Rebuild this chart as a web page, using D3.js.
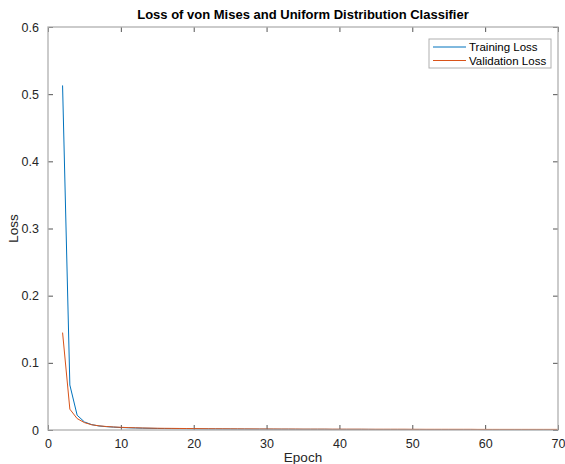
<!DOCTYPE html>
<html>
<head>
<meta charset="utf-8">
<script src="https://cdn.jsdelivr.net/npm/d3@7"></script>
<style>
  body { margin: 0; background: #fff; }
  svg { display: block; font-family: "Liberation Sans", Arial, sans-serif; }
</style>
</head>
<body>
<svg id="chart" width="565" height="464"></svg>
<script>
// epochs (x values)
const epochs = [2, 3, 4, 5, 6, 7, 8, 9, 10, 11, 12, 13, 14, 15, 16, 17, 18, 19, 20,
  21, 22, 23, 24, 25, 26, 27, 28, 29, 30, 31, 32, 33, 34, 35, 36, 37, 38, 39, 40,
  41, 42, 43, 44, 45, 46, 47, 48, 49, 50, 51, 52, 53, 54, 55, 56, 57, 58, 59, 60,
  61, 62, 63, 64, 65, 66, 67, 68, 69, 70];

const trainingLoss = [0.513, 0.067, 0.022, 0.012, 0.008, 0.006, 0.005, 0.0043, 0.0037,
  0.0033, 0.003, 0.0027, 0.0025, 0.0023, 0.0021, 0.002, 0.0019, 0.0018, 0.0017,
  0.0016, 0.0015, 0.0015, 0.0014, 0.0014, 0.0013, 0.0013, 0.0012, 0.0012, 0.0012,
  0.0011, 0.0011, 0.0011, 0.001, 0.001, 0.001, 0.001, 0.001, 0.0009, 0.0009,
  0.0009, 0.0009, 0.0009, 0.0009, 0.0008, 0.0008, 0.0008, 0.0008, 0.0008, 0.0008,
  0.0008, 0.0007, 0.0007, 0.0007, 0.0007, 0.0007, 0.0007, 0.0007, 0.0007, 0.0006,
  0.0006, 0.0006, 0.0006, 0.0006, 0.0006, 0.0006, 0.0006, 0.0006, 0.0006, 0.0006];

const validationLoss = [0.145, 0.031, 0.017, 0.011, 0.0078, 0.0062, 0.0052, 0.0045, 0.004,
  0.0036, 0.0033, 0.003, 0.0028, 0.0026, 0.0025, 0.0024, 0.0023, 0.0022, 0.0021,
  0.002, 0.0019, 0.0018, 0.0018, 0.0017, 0.0017, 0.0016, 0.0016, 0.0015, 0.0015,
  0.0015, 0.0014, 0.0014, 0.0014, 0.0013, 0.0013, 0.0013, 0.0013, 0.0012, 0.0012,
  0.0012, 0.0012, 0.0012, 0.0011, 0.0011, 0.0011, 0.0011, 0.0011, 0.0011, 0.001,
  0.001, 0.001, 0.001, 0.001, 0.001, 0.001, 0.001, 0.001, 0.0009, 0.0009,
  0.0009, 0.0009, 0.0009, 0.0009, 0.0009, 0.0009, 0.0009, 0.0009, 0.0009, 0.0009];

const seriesNames = ["Training Loss", "Validation Loss"];
const seriesColors = ["#0072BD", "#D95319"];
const xTicks = [0, 10, 20, 30, 40, 50, 60, 70];
const yTicks = [0, 0.1, 0.2, 0.3, 0.4, 0.5, 0.6];

const margin = { top: 27, right: 7, bottom: 34, left: 48 };
const W = 565, H = 464;
const width = W - margin.left - margin.right;
const height = H - margin.top - margin.bottom;

const svg = d3.select("#chart");
const g = svg.append("g").attr("transform", `translate(${margin.left},${margin.top})`);

const x = d3.scaleLinear().domain([0, 70]).range([0, width]);
const y = d3.scaleLinear().domain([0, 0.6]).range([height, 0]);

// axes (ticks inside, mirrored on top/right)
const tickLen = 5;
const styleAxis = sel => {
  sel.select(".domain").remove();
  sel.selectAll(".tick line").attr("stroke", "#555").attr("stroke-width", 1);
  sel.selectAll(".tick text").attr("fill", "#262626").style("font-size", "12.5px")
    .style("font-family", "'Liberation Sans', Arial, sans-serif");
};

g.append("g")
  .attr("transform", `translate(0,${height})`)
  .call(d3.axisBottom(x).tickValues(xTicks).tickSizeInner(-tickLen).tickSizeOuter(0).tickPadding(9).tickFormat(d3.format("d")))
  .call(styleAxis);
g.append("g")
  .call(d3.axisTop(x).tickValues(xTicks).tickSizeInner(-tickLen).tickSizeOuter(0).tickFormat(""))
  .call(styleAxis);
g.append("g")
  .call(d3.axisLeft(y).tickValues(yTicks).tickSizeInner(-tickLen).tickSizeOuter(0).tickPadding(9)
    .tickFormat(d => d === 0 ? "0" : d3.format(".1f")(d)))
  .call(styleAxis);
g.append("g")
  .attr("transform", `translate(${width},0)`)
  .call(d3.axisRight(y).tickValues(yTicks).tickSizeInner(-tickLen).tickSizeOuter(0).tickFormat(""))
  .call(styleAxis);

// lines
const series = [trainingLoss, validationLoss];
const line = d3.line().x((d, i) => x(epochs[i])).y(d => y(d));
series.forEach((s, k) => {
  g.append("path")
    .datum(s)
    .attr("fill", "none")
    .attr("stroke", seriesColors[k])
    .attr("stroke-width", 1)
    .attr("d", line);
});

// box
g.append("rect")
  .attr("width", width).attr("height", height)
  .attr("fill", "none").attr("stroke", "#b0b0b0").attr("stroke-width", 1.3);

// title
svg.append("text")
  .attr("x", margin.left + width / 2).attr("y", 19)
  .attr("text-anchor", "middle")
  .style("font-size", "13px").style("font-weight", "bold").attr("fill", "#000")
  .text("Loss of von Mises and Uniform Distribution Classifier");

// axis labels
svg.append("text")
  .attr("x", margin.left + width / 2).attr("y", 462)
  .attr("text-anchor", "middle")
  .style("font-size", "13.5px").attr("fill", "#262626")
  .text("Epoch");
svg.append("text")
  .attr("transform", `translate(18,${margin.top + height / 2}) rotate(-90)`)
  .attr("text-anchor", "middle")
  .style("font-size", "13.5px").attr("fill", "#262626")
  .text("Loss");

// legend
const legend = svg.append("g").attr("transform", "translate(429,39)");
legend.append("rect")
  .attr("width", 122).attr("height", 29)
  .attr("fill", "#fff").attr("stroke", "#b0b0b0").attr("stroke-width", 1);
seriesNames.forEach((name, k) => {
  const ly = 8 + k * 13.5;
  legend.append("line")
    .attr("x1", 4).attr("x2", 37).attr("y1", ly).attr("y2", ly)
    .attr("stroke", seriesColors[k]).attr("stroke-width", 1);
  legend.append("text")
    .attr("x", 40).attr("y", ly + 4)
    .style("font-size", "11.5px").attr("fill", "#000")
    .text(name);
});
</script>
</body>
</html>
